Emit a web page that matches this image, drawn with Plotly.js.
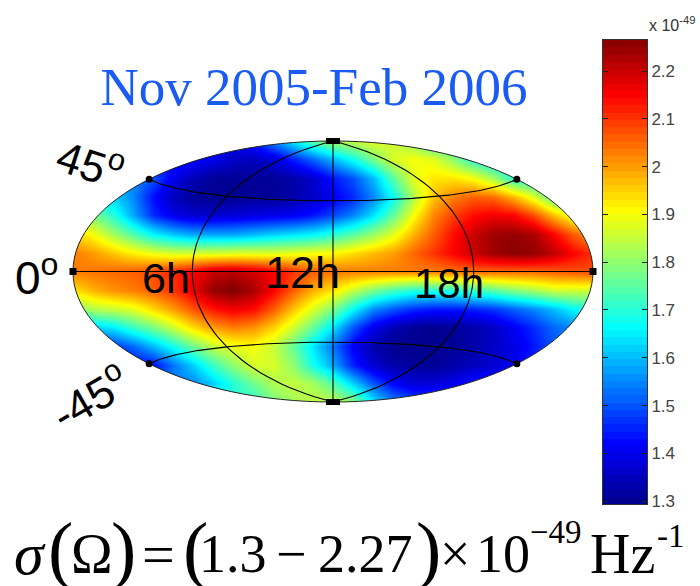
<!DOCTYPE html>
<html><head><meta charset="utf-8">
<script src="https://cdn.plot.ly/plotly-3.0.1.min.js"></script>
<style>html,body{margin:0;padding:0;background:#fff}#c{width:700px;height:586px}</style></head>
<body><div id="c"></div>
<script>
// Map samples, units 1e-49 Hz^-1, one row per 1/7 of the map half-height, top to bottom; 27 columns across
const sigmaRow01=[1.4,1.4,1.4,1.4,1.4,1.4,1.4,1.4,1.4,1.45,1.55,1.65,1.75,1.82,1.85,1.88,1.86,1.8,1.7,1.7,1.7,1.7,1.7,1.7,1.7,1.7,1.7];
const sigmaRow02=[1.45,1.45,1.45,1.45,1.45,1.45,1.43,1.4,1.36,1.35,1.38,1.45,1.52,1.6,1.68,1.78,1.87,1.9,1.88,1.8,1.7,1.65,1.65,1.65,1.65,1.65,1.65];
const sigmaRow03=[1.6,1.6,1.6,1.55,1.5,1.4,1.34,1.31,1.31,1.31,1.31,1.33,1.37,1.44,1.5,1.6,1.75,1.88,1.93,1.93,1.9,1.82,1.7,1.68,1.68,1.68,1.68];
const sigmaRow04=[1.7,1.68,1.62,1.55,1.43,1.35,1.31,1.3,1.3,1.31,1.31,1.33,1.36,1.41,1.46,1.55,1.67,1.83,1.96,2.03,2.06,2.05,1.98,1.88,1.75,1.7,1.7];
const sigmaRow05=[1.8,1.78,1.7,1.58,1.46,1.4,1.37,1.37,1.38,1.39,1.4,1.41,1.44,1.49,1.55,1.64,1.76,1.9,2.02,2.09,2.14,2.16,2.15,2.08,1.97,1.88,1.88];
const sigmaRow06=[1.95,1.9,1.82,1.74,1.66,1.61,1.58,1.58,1.58,1.6,1.62,1.64,1.66,1.7,1.75,1.81,1.88,1.98,2.06,2.14,2.2,2.24,2.25,2.23,2.15,2.06,2.0];
const sigmaRow07=[2.03,2.0,1.96,1.92,1.89,1.87,1.87,1.87,1.88,1.88,1.88,1.89,1.9,1.91,1.94,1.97,2.0,2.05,2.1,2.15,2.2,2.24,2.26,2.25,2.21,2.15,2.1];
const sigmaRow08=[2.03,2.04,2.05,2.06,2.08,2.11,2.15,2.2,2.21,2.19,2.15,2.1,2.06,2.04,2.03,2.03,2.03,2.03,2.03,2.04,2.05,2.05,2.05,2.05,2.06,2.07,2.08];
const sigmaRow09=[1.93,1.98,2.01,2.03,2.06,2.1,2.17,2.25,2.27,2.23,2.15,2.06,1.98,1.93,1.85,1.78,1.73,1.7,1.7,1.7,1.72,1.75,1.79,1.82,1.86,1.86,1.86];
const sigmaRow10=[1.78,1.83,1.85,1.88,1.94,2.0,2.07,2.13,2.16,2.14,2.06,1.96,1.87,1.78,1.66,1.55,1.5,1.46,1.44,1.44,1.45,1.47,1.51,1.55,1.6,1.66,1.7];
const sigmaRow11=[1.6,1.62,1.65,1.72,1.78,1.86,1.94,2.0,2.03,2.01,1.95,1.86,1.76,1.64,1.5,1.4,1.34,1.31,1.3,1.31,1.33,1.36,1.41,1.46,1.52,1.55,1.55];
const sigmaRow12=[1.45,1.45,1.47,1.52,1.6,1.68,1.77,1.85,1.89,1.9,1.85,1.76,1.64,1.53,1.41,1.33,1.3,1.3,1.3,1.31,1.33,1.36,1.39,1.44,1.5,1.55,1.55];
const sigmaRow13=[1.42,1.42,1.42,1.42,1.43,1.53,1.62,1.72,1.8,1.87,1.87,1.8,1.68,1.58,1.45,1.37,1.33,1.31,1.31,1.33,1.35,1.37,1.41,1.46,1.5,1.5,1.5];
const sigmaRow14=[1.55,1.55,1.55,1.55,1.55,1.55,1.55,1.62,1.7,1.77,1.83,1.85,1.82,1.74,1.62,1.5,1.42,1.38,1.38,1.4,1.45,1.45,1.45,1.45,1.45,1.45,1.45];
const sigmaRow15=[1.7,1.7,1.7,1.7,1.7,1.7,1.7,1.7,1.7,1.7,1.78,1.82,1.85,1.85,1.8,1.65,1.55,1.5,1.5,1.5,1.5,1.5,1.5,1.5,1.5,1.5,1.5];
const sigmaRows=[sigmaRow01,sigmaRow02,sigmaRow03,sigmaRow04,sigmaRow05,sigmaRow06,sigmaRow07,sigmaRow08,sigmaRow09,sigmaRow10,sigmaRow11,sigmaRow12,sigmaRow13,sigmaRow14,sigmaRow15];
const barTicks=[1.3,1.4,1.5,1.6,1.7,1.8,1.9,2,2.1,2.2];
const barTickText=['1.3','1.4','1.5','1.6','1.7','1.8','1.9','2','2.1','2.2'];
const parallels=[45,-45];
const meridians=[-90,0,90];
const hourLabels=['6h','12h','18h'];

const W=700,H=586,SERIF='"Liberation Serif"',SANS='"Liberation Sans"';
const zMin=1.3,zMax=2.27,barLow=1.294,barHigh=2.265;
const jet=[[0,'rgb(0,0,143)'],[0.125,'rgb(0,0,255)'],[0.375,'rgb(0,255,255)'],[0.625,'rgb(255,255,0)'],[0.875,'rgb(255,0,0)'],[1,'rgb(128,0,0)']];

// Hammer projection, in units of the ellipse semi-axes
function project(lonDeg,latDeg){
  const l=lonDeg*Math.PI/180,p=latDeg*Math.PI/180;
  const d=Math.sqrt(1+Math.cos(p)*Math.cos(l/2));
  return [Math.cos(p)*Math.sin(l/2)/d, Math.sin(p)/d];
}

const rx=1.03,ry=1.06;
const cx=333,cy=271.5,ax=260,ay=130.5;
const xDomain=[(cx-ax*rx)/W,(cx+ax*rx)/W];
const yDomain=[1-(cy+ay*ry)/H,1-(cy-ay*ry)/H];

const nCols=sigmaRow01.length,nRows=sigmaRows.length;
const xGrid=Array.from({length:nCols},(_,i)=>-1+2*i/(nCols-1));
const yGrid=Array.from({length:nRows},(_,i)=>-1+2*i/(nRows-1));

const traces=[{
  type:'heatmap',x:xGrid,y:yGrid,z:sigmaRows.slice().reverse(),zsmooth:'best',
  colorscale:jet,zmin:zMin,zmax:zMax,showscale:false,hoverinfo:'skip',xaxis:'x',yaxis:'y'
}];

// colour ramp of the legend: 64 flat levels as in the reference
const levels=Array.from({length:64},(_,i)=>barLow+(barHigh-barLow)*(i+0.5)/64);
traces.push({type:'heatmap',x:[0],y:levels,z:levels.map(v=>[v]),colorscale:jet,zmin:zMin,zmax:zMax,showscale:false,hoverinfo:'skip',xaxis:'x2',yaxis:'y2'});

// graticule
function lineTrace(pts){return {type:'scatter',mode:'lines',x:pts.map(p=>p[0]),y:pts.map(p=>p[1]),line:{color:'#000',width:1.1},hoverinfo:'skip',showlegend:false,xaxis:'x',yaxis:'y'};}
const lonSweep=[];for(let l=-180;l<=180;l+=3)lonSweep.push(l);
const latSweep=[];for(let l=-90;l<=90;l+=3)latSweep.push(l);
traces.push(lineTrace(lonSweep.map(l=>project(l,0))));
parallels.forEach(lat=>traces.push(lineTrace(lonSweep.map(l=>project(l,lat)))));
meridians.forEach(lon=>traces.push(lineTrace(latSweep.map(l=>project(lon,l)))));

// white surround with an elliptical hole, in paper units so it is not clipped at the plot edge, then the outline
const k=0.5523;
const px=u=>((cx+ax*u)/W).toFixed(5), py=v=>(1-(cy-ay*v)/H).toFixed(5);
const ellipsePaper=`M${px(1)},${py(0)} C${px(1)},${py(k)} ${px(k)},${py(1)} ${px(0)},${py(1)} C${px(-k)},${py(1)} ${px(-1)},${py(k)} ${px(-1)},${py(0)} C${px(-1)},${py(-k)} ${px(-k)},${py(-1)} ${px(0)},${py(-1)} C${px(k)},${py(-1)} ${px(1)},${py(-k)} ${px(1)},${py(0)} Z`;
const outer=`M${60/W},${1-420/H} L${601.5/W},${1-420/H} L${601.5/W},${1-125/H} L${60/W},${1-125/H} Z`;
const shapes=[
  {type:'path',xref:'paper',yref:'paper',path:outer+' '+ellipsePaper,fillcolor:'#fff',fillrule:'evenodd',line:{width:0},layer:'above'},
  {type:'path',xref:'paper',yref:'paper',path:ellipsePaper,fillcolor:'rgba(0,0,0,0)',line:{color:'#222',width:1},layer:'above'}
];
function dot(lon,lat,wpx,hpx,kind){
  const q=project(lon,lat),a=wpx/2/ax,b=hpx/2/ay;
  return {type:kind,xref:'x',yref:'y',x0:q[0]-a,x1:q[0]+a,y0:q[1]-b,y1:q[1]+b,fillcolor:'#000',line:{width:0},layer:'above'};
}
shapes.push(dot(0,90,14,6,'rect'),dot(0,-90,14,6,'rect'),dot(-180,0,7,7,'rect'),dot(180,0,7,7,'rect'));
parallels.forEach(lat=>[-180,180].forEach(lon=>shapes.push(dot(lon,lat,7,7,'circle'))));

function txt(text,x,y,size,o){
  o=o||{};
  return {text:text,xref:'paper',yref:'paper',x:x/W,y:1-y/H,xanchor:'center',yanchor:'middle',showarrow:false,
    textangle:o.angle||0,font:{family:o.family||SANS,size:size,color:o.color||'#000'}};
}
const serif={family:SERIF};
const annotations=[
  txt('0<sup>o</sup>',37,275,46),
  txt('45<sup>o</sup>',91,161,44,{angle:18}),
  txt('-45<sup>o</sup>',89,396,44,{angle:-30}),
  txt(hourLabels[0],166,278,43),
  txt(hourLabels[1],302,272,45),
  txt(hourLabels[2],449,283,42),
  txt('x 10<sup>-49</sup>',672,24,16,{color:'#333'}),
  txt('<i>σ</i>',30,554,60,serif),
  txt('(',60,549,76,serif),
  txt('Ω',92,554,56,serif),
  txt(')',124,549,76,serif),
  txt('=',158,554,58,serif),
  txt('(',195,549,76,serif),
  txt('1.3',233,554,54,serif),
  txt('−',291,554,54,serif),
  txt('2.27',365,554,54,serif),
  txt(')',428,549,76,serif),
  txt('×',455,554,54,serif),
  txt('10',503,554,54,serif),
  txt('−49',556,532,33,serif),
  txt('Hz',622,554,56,serif),
  txt('-1',671,536,33,serif)
];

const layout={
  width:W,height:H,margin:{l:0,r:0,t:0,b:0},paper_bgcolor:'#fff',plot_bgcolor:'#fff',showlegend:false,
  title:{text:'Nov 2005-Feb 2006',x:314/W,xanchor:'center',y:1-86/H,yanchor:'middle',font:{family:SERIF,size:53,color:'#1a5cf2'}},
  xaxis:{domain:xDomain,range:[-rx,rx],visible:false,fixedrange:true},
  yaxis:{domain:yDomain,range:[-ry,ry],visible:false,fixedrange:true},
  xaxis2:{domain:[603/W,647/W],range:[-0.5,0.5],anchor:'y2',showticklabels:false,ticks:'',showline:true,mirror:true,linecolor:'#333',linewidth:1,showgrid:false,zeroline:false,fixedrange:true},
  yaxis2:{domain:[1-504/H,1-40/H],range:[barLow,barHigh],anchor:'x2',side:'right',tickvals:barTicks,ticktext:barTickText,ticks:'inside',ticklen:5,tickcolor:'#222',tickwidth:1,showline:true,mirror:'ticks',linecolor:'#333',linewidth:1,showgrid:false,zeroline:false,tickfont:{family:SANS,size:17,color:'#444'},fixedrange:true},
  shapes:shapes,annotations:annotations
};
Plotly.newPlot('c',traces,layout,{staticPlot:true,displayModeBar:false});
</script></body></html>
